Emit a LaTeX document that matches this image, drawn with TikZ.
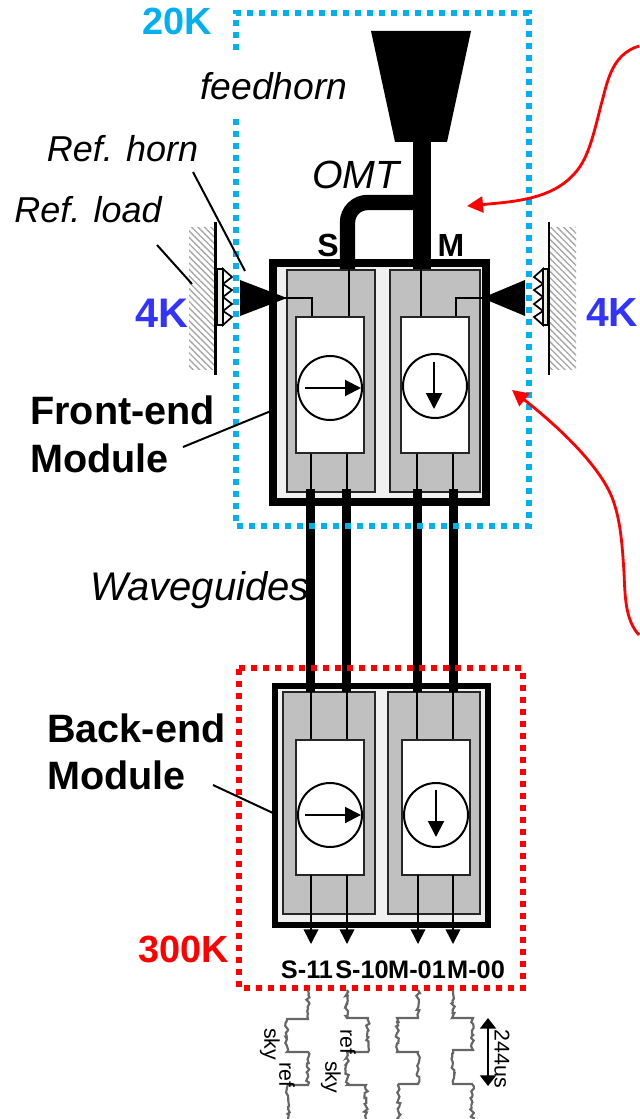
\documentclass[tikz,border=0pt]{standalone}
\usepackage{fontspec}
\setmainfont{Liberation Sans}
\definecolor{capBlue}{HTML}{00B0F0}
\definecolor{capRed}{HTML}{FF0000}
\definecolor{loadBlue}{HTML}{3333FF}
\definecolor{modFill}{HTML}{F0F0F0}
\definecolor{chainGray}{HTML}{C0C0C0}
\definecolor{toothFill}{HTML}{EDECE0}
\definecolor{waveGray}{HTML}{666666}
\usetikzlibrary{calc,positioning,arrows.meta,patterns.meta,decorations.pathmorphing}
\tikzset{
  capbox/.style={line width=4.5pt, dash pattern=on 4.5pt off 4.5pt},
  modbox/.style={draw=black, fill=modFill, line width=5pt, miter limit=10},
  chainbox/.style={draw=black!85, fill=chainGray, line width=1.5pt},
  whitebox/.style={draw=black!85, fill=white, line width=1.5pt},
  thinline/.style={black, line width=1.7pt},
  guide/.style={black, line width=6.8pt},
  hybrid/.style={draw=black, fill=white, line width=1.5pt, circle, minimum size=48pt, inner sep=0pt},
  hybridarrow/.style={black, line width=1.5pt, -{Triangle[length=12pt,width=12pt]}},
  outarrow/.style={black, line width=1.2pt, -{Triangle[length=11pt,width=11pt]}},
  leader/.style={black, line width=1.5pt},
  note/.style={red, line width=2.1pt, -{Triangle[length=12pt,width=12pt]}},
  hatch/.style={pattern={Lines[angle=-45,distance=3.4pt,line width=1pt]}, pattern color=black!35},
  tooth/.style={draw=black, line width=1.3pt, fill=white, line join=miter},
  wave/.style={waveGray, line width=1.6pt, decoration={random steps, segment length=1.8pt, amplitude=1.4pt}},
  lab/.style={font=\fontsize{28pt}{30pt}\selectfont\itshape, inner sep=0pt},
  blab/.style={font=\fontsize{29.7pt}{35.5pt}\selectfont\bfseries, inner sep=0pt},
  templab/.style={font=\fontsize{28.4pt}{30pt}\selectfont\bfseries, inner sep=0pt},
  portlab/.style={font=\fontsize{24pt}{26pt}\selectfont\bfseries, inner sep=0pt},
  outlab/.style={font=\fontsize{19pt}{20pt}\selectfont\bfseries, inner sep=0pt},
  timelab/.style={font=\fontsize{16pt}{18pt}\selectfont, inner sep=0pt, rotate=-90},
}
\begin{document}
\begin{tikzpicture}[x=0.75pt,y=-0.75pt]
  \useasboundingbox (0,0) rectangle (639,1119);
  % Reference loads, left and right
  \fill[hatch] (189,228) rectangle (214,369);
  \fill[hatch] (550,228) rectangle (576,369);
  \draw[black, line width=2pt] (215.5,222) -- (215.5,375);
  \draw[black, line width=2pt] (549,222) -- (549,375);
  \draw[tooth] (223,269) -- (232,277) -- (223,284) -- (232,290) -- (223,297) -- (232,304) -- (223,311) -- (232,317) -- (223,325) -- cycle;
  \draw[tooth] (543,269) -- (534,277) -- (543,284) -- (534,290) -- (543,297) -- (534,304) -- (543,311) -- (534,317) -- (543,325) -- cycle;
  \draw[black, line width=1.3pt, fill=toothFill] (217,269) rectangle (223,325);
  \draw[black, line width=1.3pt, fill=toothFill] (543,269) rectangle (548,325);
  % Front-end module
  \draw[modbox, line width=5.6pt] (273,263) rectangle (486,502);
  \draw[chainbox] (287,270) rectangle (375,492);
  \draw[chainbox] (390,270) rectangle (480,492);
  \draw[thinline] (349,268) -- (349,317);
  \draw[thinline] (421,268) -- (421,317);
  \draw[thinline] (285,298) -- (312,298) -- (312,317);
  \draw[thinline] (484,298) -- (456,298) -- (456,317);
  \foreach \xb in {311,347,417,453} \draw[thinline] (\xb,453) -- (\xb,490);
  \draw[whitebox] (296,317) rectangle (364,453);
  \draw[whitebox] (401,317) rectangle (469,453);
  \node[hybrid] (fehybL) at (330,388) {};
  \node[hybrid] (fehybR) at (435,386) {};
  \draw[hybridarrow] (fehybL.west) ++(8,0) -- ++(56,0);
  \draw[hybridarrow] (fehybR.north) ++(-1,9) -- ++(0,47);
  % Back-end module
  \draw[modbox] (275,686) rectangle (488,925);
  \draw[chainbox] (283,692) rectangle (375,914);
  \draw[chainbox] (388,692) rectangle (480,914);
  \foreach \xb in {311,347,417,453} \draw[thinline] (\xb,692) -- (\xb,740);
  \draw[whitebox] (296,740) rectangle (364,875);
  \draw[whitebox] (402,740) rectangle (470,875);
  \node[hybrid] (behybL) at (330,815) {};
  \node[hybrid] (behybR) at (436,815) {};
  \draw[hybridarrow] (behybL.west) ++(8,0) -- ++(56,0);
  \draw[hybridarrow] (behybR.north) ++(0,8) -- ++(0,47);
  % Outputs
  \foreach \xb/\nm in {311/a,347/b,418/c,453/d} {
    \coordinate (out\nm) at (\xb,875);
    \coordinate (end\nm) at (\xb,944);
    \draw[outarrow] (out\nm) -- (end\nm);
  }
  % Waveguides
  \foreach \xb in {310.5,346.5,417.5,453.5} \draw[guide] (\xb,489) -- (\xb,692);
  % Feedhorn and OMT
  \fill[black] (371,31) -- (471,31) -- (447,142) -- (395,142) -- cycle;
  \draw[black, line width=13.5pt] (422,142) -- (422,269);
  \draw[black, line width=11.5pt, rounded corners=15pt] (422,202.5) -- (347.5,202.5) -- (347.5,269);
  % Horns
  \fill[black] (240,280) -- (240,316) -- (287,298) -- cycle;
  \fill[black] (525,280) -- (525,316) -- (482,298) -- cycle;
  % Temperature stages
  \draw[capbox, capBlue] (236,50) -- (236,13) -- (528.5,13) -- (528.5,526) -- (236,526) -- (236,118);
  \draw[capbox, capRed] (239,668) -- (522.5,668) -- (522.5,988) -- (239,988) -- cycle;
  % Bias patterns
  \pgfmathsetseed{2407}
  \draw[wave] (308,990) decorate {-- (308,1019)} -- (287,1019) decorate {-- (287,1052)} -- (308,1052) decorate {-- (308,1085)} -- (288,1085) decorate {-- (288,1119)};
  \draw[wave] (347,990) decorate {-- (347,1018)} -- (368,1018) decorate {-- (368,1052)} -- (347,1052) decorate {-- (347,1085)} -- (366,1085) decorate {-- (366,1119)};
  \draw[wave] (418,990) decorate {-- (418,1018)} -- (397,1018) decorate {-- (397,1052)} -- (418,1052) decorate {-- (418,1084)} -- (399,1084) decorate {-- (399,1119)};
  \draw[wave] (453,990) decorate {-- (453,1018)} -- (473,1018) decorate {-- (473,1050)} -- (453,1050) decorate {-- (453,1084)} -- (472,1084) decorate {-- (472,1119)};
  \coordinate (periodTop) at (488,1018);
  \coordinate (periodBot) at (488,1086);
  \draw[black, line width=1.5pt, {Triangle[length=8pt,width=12pt]}-{Triangle[length=8pt,width=12pt]}] (periodTop) -- (periodBot);
  % Labels
  \node[templab, text=capBlue] (tempTwenty) at (177.5,21) {20K};
  \node[templab, text=loadBlue, font=\fontsize{31pt}{33pt}\selectfont\bfseries] (tempFourL) at (161.5,313) {4K};
  \node[templab, text=loadBlue, font=\fontsize{30.5pt}{33pt}\selectfont\bfseries] (tempFourR) at (612,313) {4K};
  \node[templab, text=capRed] (tempHot) at (183.5,949) {300K};
  \node[lab] (feedhorn) at (274,86) {feedhorn};
  \node[lab, font=\fontsize{27pt}{30pt}\selectfont\itshape] (refhorn) at (122.5,149) {Ref. horn};
  \node[lab, font=\fontsize{27pt}{30pt}\selectfont\itshape] (refload) at (88,210) {Ref. load};
  \node[lab, font=\fontsize{29.5pt}{30pt}\selectfont\itshape] (omt) at (356,175) {OMT};
  \node[lab, font=\fontsize{30pt}{30pt}\selectfont\itshape] (waveguides) at (200,590) {Waveguides};
  \node[portlab] (portS) at (328,245) {S};
  \node[portlab] (portM) at (451,245) {M};
  \node[blab, align=left, anchor=west] (frontend) at (30,434.5) {Front-end\\Module};
  \node[blab, align=left, anchor=west] (backend) at (47,752) {Back-end\\Module};
  \node[outlab] (sOne) at (307,970) {S-11};
  \node[outlab] (sTwo) at (362,970) {S-10};
  \node[outlab] (mOne) at (417,970) {M-01};
  \node[outlab] (mTwo) at (476,970) {M-00};
  \node[timelab] (skyA) at (270,1044) {sky};
  \node[timelab] (refA) at (287,1075) {ref};
  \node[timelab] (refB) at (348,1042) {ref};
  \node[timelab] (skyB) at (331,1077) {sky};
  \node[timelab] (period) at (502,1059) {244us};
  % Leader lines
  \coordinate (hornTip) at (245,271);
  \coordinate (loadTip) at (192,284);
  \coordinate (feTip) at (271,411);
  \coordinate (beTip) at (273,813);
  \draw[leader] (193,172) -- (hornTip);
  \draw[leader] (157,245) -- (loadTip);
  \draw[leader] (183,447) -- (feTip);
  \draw[leader] (213,785) -- (beTip);
  % Red call-outs
  \coordinate (noteTipA) at (467,206);
  \coordinate (noteTipB) at (512,390);
  \draw[note] (639,46) .. controls (610,55) and (607,85) .. (601,105) .. controls (590,150) and (585,165) .. (568,180) .. controls (545,200) and (510,202) .. (noteTipA);
  \draw[note] (639,635) .. controls (625,620) and (625,595) .. (624,573) .. controls (622,540) and (620,520) .. (613,500) .. controls (604,475) and (575,440) .. (noteTipB);
\end{tikzpicture}
\end{document}
